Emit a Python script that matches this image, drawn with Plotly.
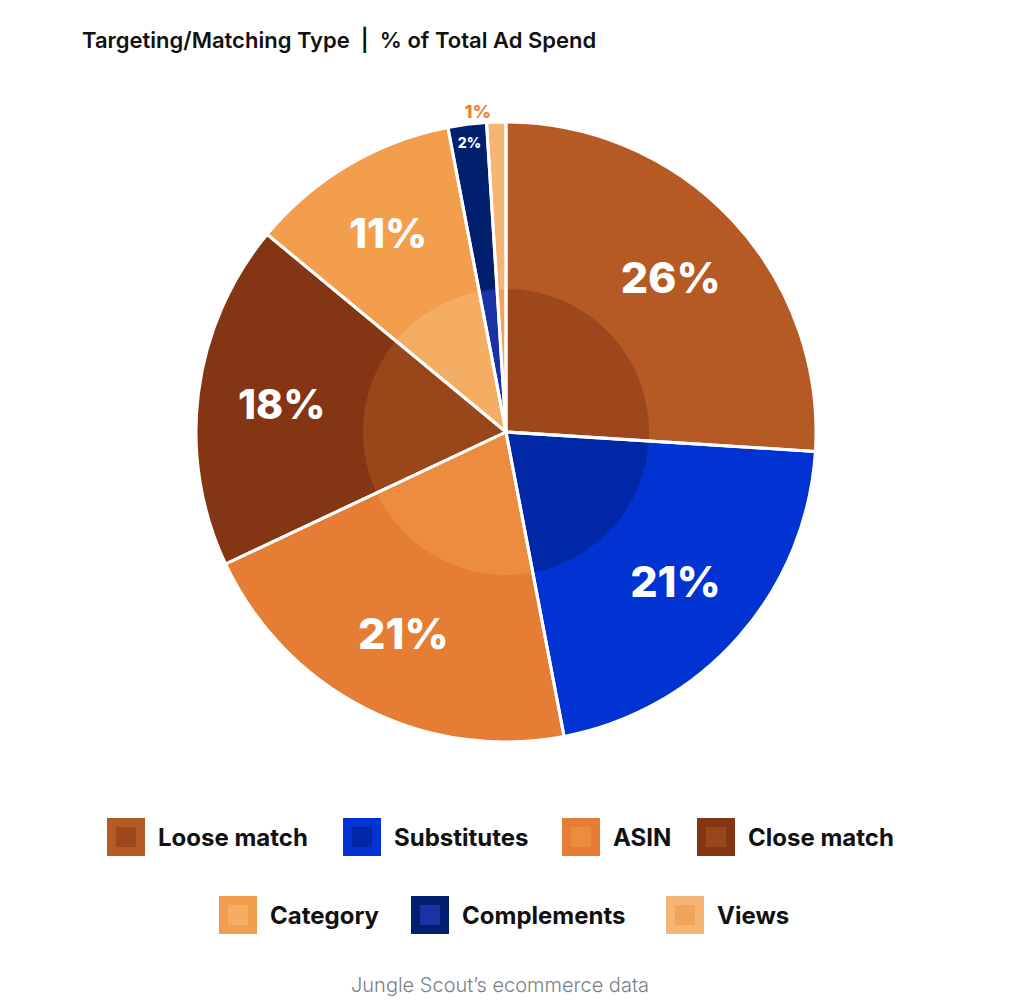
"""Targeting/Matching Type | % of Total Ad Spend — pie chart (Plotly HTML)."""

import plotly.graph_objects as go

W, H = 1024, 1007

# ──────────────────── Данные ────────────────────

labels = ["Loose match", "Substitutes", "ASIN", "Close match",
          "Category", "Complements", "Views"]
values = [26, 21, 21, 18, 11, 2, 1]
text_labels = ["26%", "21%", "21%", "18%", "11%", "2%", "1%"]

colors = ["#B55A25", "#0033D1", "#E57D34", "#843614",
          "#F29E4D", "#001F6C", "#F5B574"]
inner_colors = ["#9C481C", "#0027A6", "#EC8C3E", "#98461A",
                "#F4AE64", "#1A32A3", "#F0A458"]

title_text = "Targeting/Matching Type  |  % of Total Ad Spend"
source_text = "Jungle Scout’s ecommerce data"

# ──────────────────── Геометрия (пиксели окна) ────────────────────

CX, CY = 506, 432        # центр круга
R_OUT, R_IN = 310, 142   # внешний радиус и радиус внутреннего «блика»
FONT = "Inter"

# квадратики легенды: (индекс метки, левый край, y центра)
LEGEND_LAYOUT = [
    (0, 107, 837), (1, 343, 837), (2, 562, 837), (3, 697, 837),
    (4, 219, 915), (5, 411, 915), (6, 666, 915),
]
SQ, SQ_IN = 38, 20


def px(x: float) -> float:
    return x / W


def py(y: float) -> float:
    return 1 - y / H


def _domain(r: float) -> dict:
    return dict(x=[px(CX - r), px(CX + r)], y=[py(CY + r), py(CY - r)])


fig = go.Figure()

# внешнее кольцо с подписями
fig.add_trace(go.Pie(
    labels=labels, values=values, text=text_labels,
    textinfo="text", sort=False, direction="clockwise", rotation=0,
    hole=R_IN / R_OUT,
    domain=_domain(R_OUT),
    marker=dict(colors=colors, line=dict(width=0)),
    textposition=["inside"] * 6 + ["outside"],
    insidetextorientation="horizontal",
    textfont=dict(family=FONT, color="white", weight=800,
                  size=[43, 43, 43, 41, 41, 14, 18]),
    outsidetextfont=dict(family=FONT, color="#E8823A", weight=800, size=18),
    hoverinfo="label+percent",
    showlegend=False,
))

# внутренний круг другого оттенка
fig.add_trace(go.Pie(
    labels=labels, values=values,
    textinfo="none", sort=False, direction="clockwise", rotation=0,
    domain=_domain(R_IN + 1),
    marker=dict(colors=inner_colors, line=dict(width=0)),
    hoverinfo="skip",
    showlegend=False,
))

# белые разделители поверх обоих слоёв
fig.add_trace(go.Pie(
    labels=labels, values=values,
    textinfo="none", sort=False, direction="clockwise", rotation=0,
    domain=_domain(R_OUT),
    marker=dict(colors=["rgba(0,0,0,0)"] * len(values),
                line=dict(color="white", width=3)),
    hoverinfo="skip",
    showlegend=False,
))

# ──────────────────── Легенда ────────────────────

shapes = []
annotations = []
for idx, x0, yc in LEGEND_LAYOUT:
    shapes.append(dict(
        type="rect", xref="paper", yref="paper",
        x0=px(x0), x1=px(x0 + SQ), y0=py(yc + SQ / 2), y1=py(yc - SQ / 2),
        fillcolor=colors[idx], line=dict(width=0),
    ))
    d = (SQ - SQ_IN) / 2
    shapes.append(dict(
        type="rect", xref="paper", yref="paper",
        x0=px(x0 + d), x1=px(x0 + d + SQ_IN),
        y0=py(yc + SQ_IN / 2), y1=py(yc - SQ_IN / 2),
        fillcolor=inner_colors[idx], line=dict(width=0),
    ))
    annotations.append(dict(
        text=labels[idx], xref="paper", yref="paper",
        x=px(x0 + SQ + 11), y=py(yc), xanchor="left", yanchor="middle",
        showarrow=False,
        font=dict(family=FONT, size=24, color="#111111", weight=700),
    ))

annotations.append(dict(
    text=title_text, xref="paper", yref="paper",
    x=px(80), y=py(39), xanchor="left", yanchor="middle", showarrow=False,
    font=dict(family=FONT, size=22, color="#111111", weight=600),
))
annotations.append(dict(
    text=source_text, xref="paper", yref="paper",
    x=px(500), y=py(985), xanchor="center", yanchor="middle", showarrow=False,
    font=dict(family=FONT, size=20, color="#7B8088", weight=300),
))

fig.update_layout(
    width=W, height=H,
    margin=dict(l=0, r=0, t=0, b=0),
    paper_bgcolor="white",
    plot_bgcolor="white",
    shapes=shapes,
    annotations=annotations,
)

# убираем стандартный отступ body, чтобы фигура встала в угол окна
fig.write_html(
    "out.html",
    config={"displayModeBar": False},
    post_script="document.body.style.margin='0';",
)
